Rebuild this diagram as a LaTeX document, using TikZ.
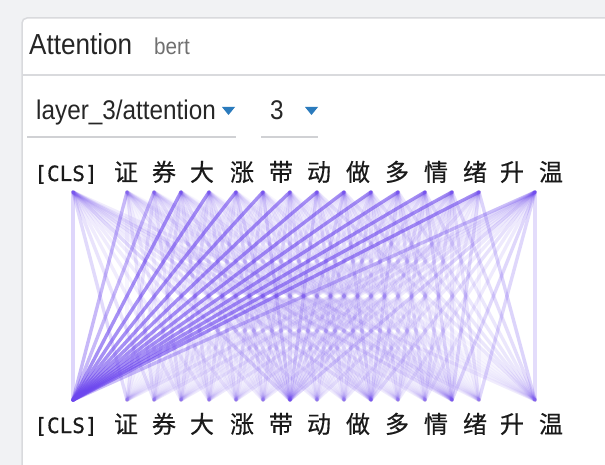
\documentclass[tikz,border=0pt]{standalone}
\usepackage{fontspec}
\newfontfamily\ui[FakeStretch=0.9]{Liberation Sans}
\newfontfamily\cjk[FakeBold=0.5]{Noto Sans CJK SC}
\newfontfamily\mono[FakeBold=0.6]{DejaVu Sans Mono}
\definecolor{bgcol}{HTML}{F1F2F4}
\definecolor{bordercol}{HTML}{D9DADD}
\definecolor{attncol}{RGB}{108,70,238}
\definecolor{arrowblue}{HTML}{2B7BBD}
\definecolor{graytxt}{HTML}{707070}
\definecolor{tokcol}{HTML}{1A1A1A}
\tikzset{
  attn/.style={draw=attncol, line width=3.4pt, line cap=round},
  tok/.style={anchor=base, inner sep=0pt, text=tokcol, font=\cjk\fontsize{24}{27}\selectfont},
  clstok/.style={anchor=base, inner sep=0pt, text=tokcol, font=\mono\fontsize{21}{24}\selectfont},
  uitxt/.style={anchor=base west, inner sep=0pt, text=black!85},
  ddarrow/.style={fill=arrowblue},
  uline/.style={draw=bordercol!90!gray, line width=1.5pt}
}
\begin{document}
\begin{tikzpicture}[x=1pt,y=-1pt]
\useasboundingbox (0,0) rectangle (605,465);
\fill[bgcol] (0,0) rectangle (605,465);
\draw[bordercol, line width=1.5pt, fill=white, rounded corners=5pt] (22,18) rectangle (640,500);
\draw[bordercol, line width=1.5pt] (22,75) -- (605,75);
% header
\node[uitxt, font=\ui\fontsize{29}{31}\selectfont] (title) at (29,55) {Attention};
\node[uitxt, text=graytxt, font=\ui\fontsize{23}{26}\selectfont] (model) at (154,55) {bert};
% dropdowns
\node[uitxt, font=\ui\fontsize{27}{30}\selectfont] (layer) at (36,120) {layer\_3/attention};
\fill[ddarrow] (222,107) -- (235,107) -- (228.5,115) -- cycle;
\node[uitxt, font=\ui\fontsize{27}{30}\selectfont] (head) at (270,120) {3};
\fill[ddarrow] (305,107) -- (318,107) -- (311.5,115) -- cycle;
\draw[uline] (27,137) -- (236,137);
\draw[uline] (261,137) -- (318,137);
% endpoints
\def\xs{{73,127,154,181,209,236,263,290,317,344,371,398,425,452,479,535}}
\foreach \k in {0,...,15}{
  \pgfmathsetmacro\xx{\xs[\k]}
  \coordinate (t\k) at (\xx,192);
  \coordinate (b\k) at (\xx,400);
}
% attention lines
\foreach \i in {0,...,15}{
  \foreach \j in {0,...,15}{
    \pgfmathsetmacro\d{abs(\i-\j)}
    \pgfmathsetmacro\w{(\j==0)*((\i==0)*0.22+(\i>=1)*(\i<=2)*0.38+(\i>=3)*(\i<=14)*0.6+(\i==15)*0.35)+(\j>0)*(0.05+(\d==1)*0.1+(\d==2)*0.05+(\j==7)*0.1+(\j==10)*0.05+(\j==13)*0.05+(\j==15)*(\i>=8)*0.08+(\i==0)*0.05+(\i==15)*0.06)}
    \draw[attn, draw opacity=\w] (t\i) -- (b\j);
  }
}
% tokens
\foreach \name/\x/\t/\s in {a/66/{[CLS]}/clstok, b/126/证/tok, c/164/券/tok, d/202/大/tok, e/242/涨/tok, f/281/带/tok, g/319/动/tok, h/358/做/tok, i/397/多/tok, j/436/情/tok, k/475/绪/tok, l/512/升/tok, m/551/温/tok}{
  \node[\s] (top\name) at (\x,181) {\t};
  \node[\s] (bot\name) at (\x,433) {\t};
}
\end{tikzpicture}
\end{document}
